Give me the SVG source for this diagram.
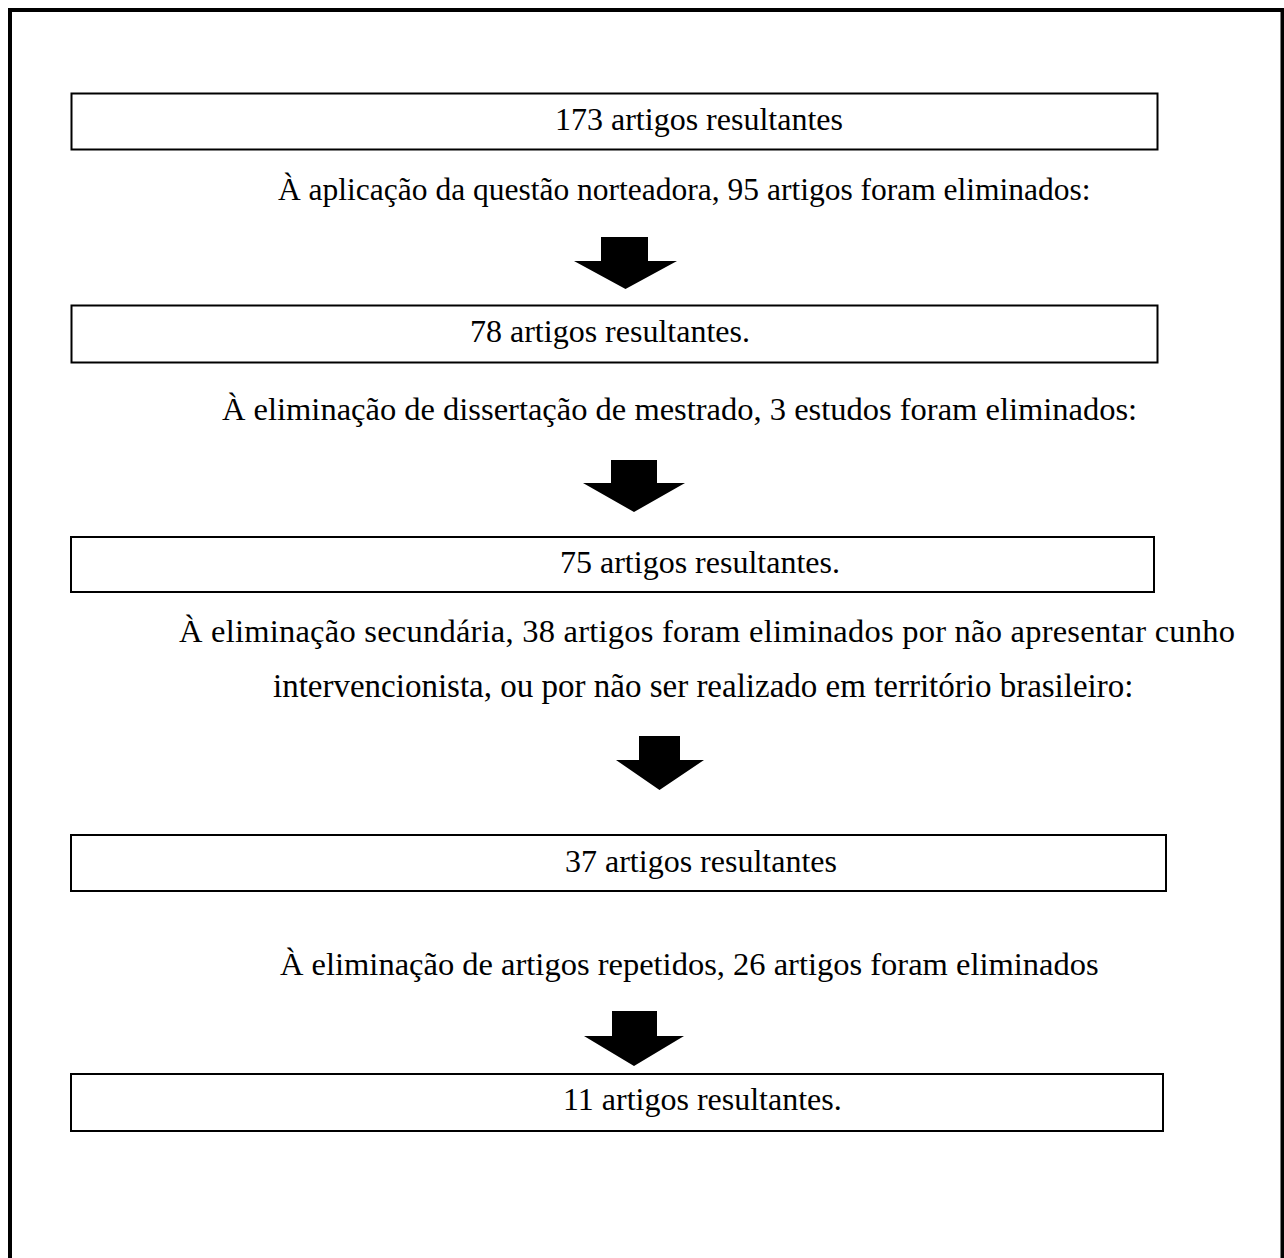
<svg xmlns="http://www.w3.org/2000/svg" width="1284" height="1258" viewBox="0 0 1284 1258">
<style>
.frame{fill:none;stroke:#000;stroke-width:4}
.box{fill:#fff;stroke:#000;stroke-width:2}
.arrow{fill:#000;stroke:none}
text{font-family:"Liberation Serif","Times New Roman",serif;font-size:32px;fill:#000}
.para{font-size:32.5px}
</style>
<rect x="0" y="0" width="1284" height="1258" fill="#fff"/>
<rect class="frame" x="10" y="10" width="1272.5" height="1270"/>
<g id="connectors">
<polygon class="arrow" points="601,237 648,237 648,261 677,261 625.5,289 574,261 601,261"/>
<polygon class="arrow" points="611,460 657,460 657,483 685,483 634,512 583,483 611,483"/>
<polygon class="arrow" points="639,736 680,736 680,760 704,760 659.5,790 616,760 639,760"/>
<polygon class="arrow" points="612,1011 657,1011 657,1036 684,1036 634,1066 584,1036 612,1036"/>
</g>
<g id="n1"><rect class="box" x="71.5" y="93.5" width="1086" height="56"/><text x="555" y="130">173 artigos resultantes</text></g>
<g id="t1"><text x="278" y="200" style="font-size:31.5px">À aplicação da questão norteadora, 95 artigos foram eliminados:</text></g>
<g id="n2"><rect class="box" x="71.5" y="305.5" width="1086" height="57"/><text x="470" y="342">78 artigos resultantes.</text></g>
<g id="t2"><text class="para" x="222" y="420">À eliminação de dissertação de mestrado, 3 estudos foram eliminados:</text></g>
<g id="n3"><rect class="box" x="71" y="537" width="1083" height="55"/><text x="560" y="573">75 artigos resultantes.</text></g>
<g id="t3"><text class="para" x="179" y="642" textLength="1056" lengthAdjust="spacing">À eliminação secundária, 38 artigos foram eliminados por não apresentar cunho</text><text x="273" y="697" style="font-size:33px">intervencionista, ou por não ser realizado em território brasileiro:</text></g>
<g id="n4"><rect class="box" x="71" y="835" width="1095" height="56"/><text x="565" y="872">37 artigos resultantes</text></g>
<g id="t4"><text class="para" x="280" y="975">À eliminação de artigos repetidos, 26 artigos foram eliminados</text></g>
<g id="n5"><rect class="box" x="71" y="1074" width="1092" height="57"/><text x="563" y="1110">11 artigos resultantes.</text></g>
</svg>
